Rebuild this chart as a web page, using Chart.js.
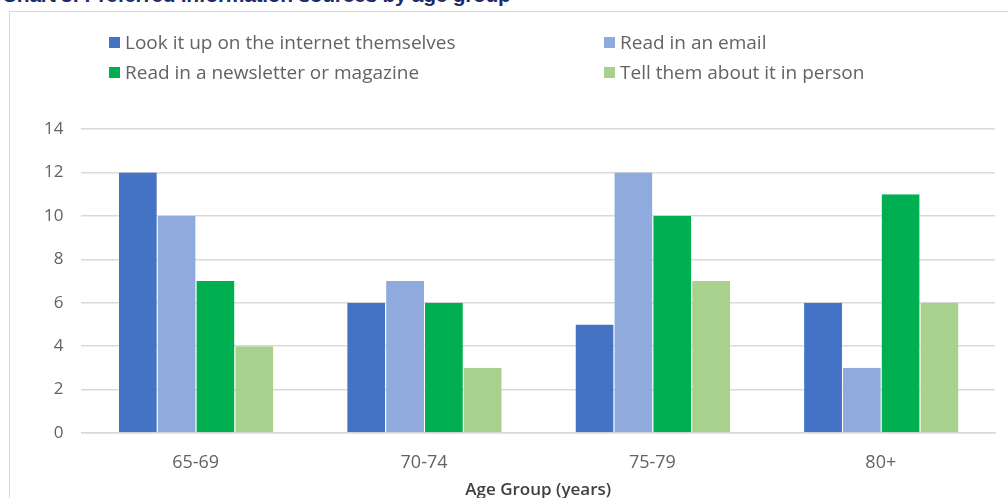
<!DOCTYPE html>
<html>
<head>
<meta charset="utf-8">
<script src="https://cdn.jsdelivr.net/npm/chart.js@4.4.1/dist/chart.umd.min.js"></script>
<style>
  html, body { margin: 0; padding: 0; background: #fff; overflow: hidden; }
  #wrap { position: relative; width: 1008px; height: 498px; }
  #title { position: absolute; left: 2px; top: -17px; font: bold 21px "Liberation Sans", Arial, sans-serif; color: #1f2a6b; white-space: nowrap; letter-spacing: -0.3px; }
  #frame { position: absolute; left: 9px; top: 11px; width: 1010px; height: 500px; border: 1.5px solid #d9d9d9; box-sizing: border-box; }
  #legend { position: absolute; left: 109px; top: 29px; width: 800px; font: 19px "Open Sans", "Noto Sans", sans-serif; color: #636363; }
  .item { position: absolute; white-space: nowrap; display: flex; align-items: center; }
  .box { width: 11px; height: 11px; margin-right: 5px; }
  canvas { position: absolute; left: 0; top: 0; }
</style>
</head>
<body>
<div id="wrap">
  <div id="frame"></div>
  <div id="title">Chart 3: Preferred information sources by age group</div>
  <canvas id="chart" width="1008" height="498"></canvas>
  <div id="legend"></div>
</div>
<script>
// data
const categories = ["65-69", "70-74", "75-79", "80+"];
const seriesNames = [
    "Look it up on the internet themselves",
    "Read in an email",
    "Read in a newsletter or magazine",
    "Tell them about it in person",
];
const internet = [12, 6, 5, 6];
const email = [10, 7, 12, 3];
const newsletter = [7, 6, 10, 11];
const inPerson = [4, 3, 7, 6];
const colors = ["#4472C4", "#8FAADC", "#00B050", "#A9D18E"];

const values = [internet, email, newsletter, inPerson];

// legend: 2 columns x 2 rows, like the original
const legendEl = document.getElementById("legend");
const legendPos = [[0, 0], [495, 0], [0, 30], [495, 30]];
seriesNames.forEach((name, i) => {
    const item = document.createElement("div");
    item.className = "item";
    item.style.left = legendPos[i][0] + "px";
    item.style.top = legendPos[i][1] + "px";
    item.innerHTML = '<span class="box" style="background:' + colors[i] + '"></span>' + name;
    legendEl.appendChild(item);
});

const ctx = document.getElementById("chart").getContext("2d");
new Chart(ctx, {
    type: "bar",
    data: {
        labels: categories,
        datasets: seriesNames.map((name, i) => ({
            label: name,
            data: values[i],
            backgroundColor: colors[i],
            borderColor: "rgba(255,255,255,0.4)",
            borderWidth: { left: 1, right: 0, top: 0, bottom: 0 },
            categoryPercentage: 0.68,
            barPercentage: 1.0,
        })),
    },
    options: {
        responsive: false,
        animation: false,
        layout: { padding: { top: 129, left: 26, right: 13, bottom: 0 } },
        plugins: {
            legend: { display: false },
            tooltip: { enabled: false },
        },
        scales: {
            x: {
                grid: { display: false },
                border: { display: true, color: "#d9d9d9", width: 1.5 },
                ticks: { color: "#636363", font: { family: "Open Sans", size: 18 }, padding: 11 },
                title: {
                    display: true,
                    text: "Age Group (years)",
                    color: "#404040",
                    font: { family: "Open Sans", size: 17, weight: "600" },
                    padding: { top: -5, bottom: -2 },
                },
            },
            y: {
                min: 0,
                max: 14,
                ticks: { stepSize: 2, color: "#636363", font: { family: "Open Sans", size: 17 }, padding: 18 },
                grid: { color: "#d9d9d9", lineWidth: 1.5, drawTicks: false },
                border: { display: false },
            },
        },
    },
});
</script>
</body>
</html>
